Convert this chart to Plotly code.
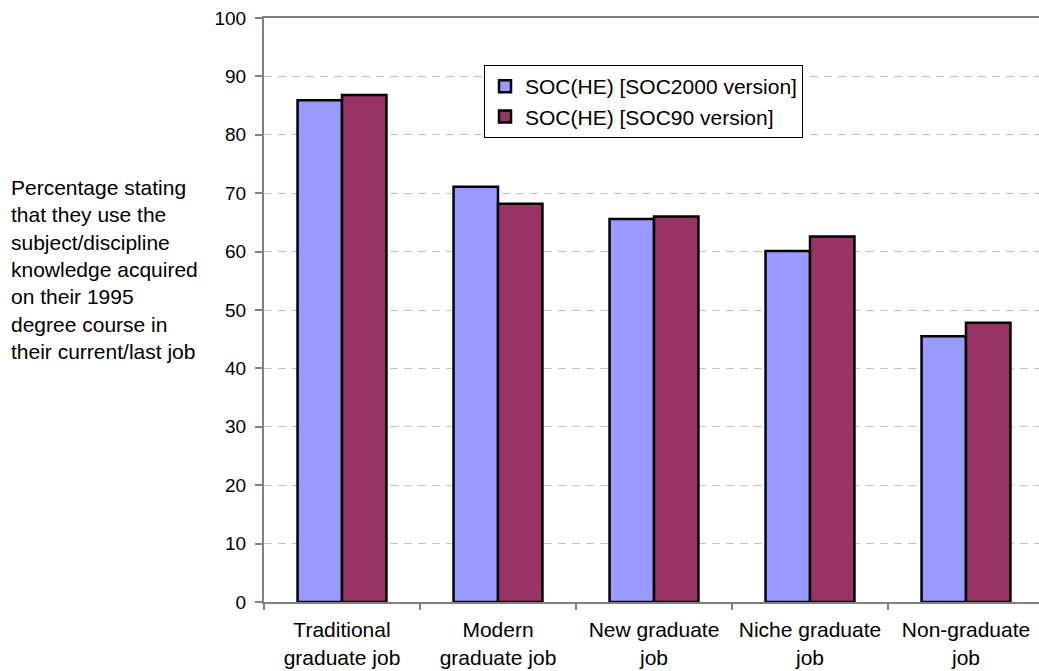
import plotly.graph_objects as go

# Job categories (x axis) and the two classification series
categories = [
    "Traditional<br>graduate job",
    "Modern<br>graduate job",
    "New graduate<br>job",
    "Niche graduate<br>job",
    "Non-graduate<br>job",
]
soc2000 = [85.9, 71.1, 65.6, 60.1, 45.5]
soc90 = [86.8, 68.2, 66.0, 62.6, 47.8]
series_names = ["SOC(HE) [SOC2000 version]", "SOC(HE) [SOC90 version]"]
y_title_lines = [
    "Percentage stating",
    "that they use the",
    "subject/discipline",
    "knowledge acquired",
    "on their 1995",
    "degree course in",
    "their current/last job",
]

FONT = "Liberation Sans, Arial, sans-serif"
FS = 21

W, H = 1039, 671
L, T, B = 264, 18, 69
plot_w = W - L
plot_h = H - T - B
cat_px = 156.0

fig = go.Figure()
fig.add_trace(go.Bar(
    x=categories, y=soc2000, name=series_names[0],
    marker=dict(color="#9999FF", line=dict(color="#000000", width=2.5)),
))
fig.add_trace(go.Bar(
    x=categories, y=soc90, name=series_names[1],
    marker=dict(color="#993366", line=dict(color="#000000", width=2.5)),
))

fig.update_layout(
    width=W, height=H,
    margin=dict(l=L, r=0, t=T, b=B, pad=0),
    paper_bgcolor="white", plot_bgcolor="white",
    font=dict(family=FONT, size=FS, color="#000000"),
    barmode="group", bargap=0.43, bargroupgap=0,
    showlegend=True,
    legend=dict(
        x=(484 - L) / plot_w, y=(H - B - 65) / plot_h,
        xanchor="left", yanchor="top",
        bgcolor="white", bordercolor="#000000", borderwidth=1,
        font=dict(family=FONT, size=FS, color="#000000"),
        itemwidth=30, tracegroupgap=0,
    ),
    xaxis=dict(
        type="category",
        range=[-0.5, -0.5 + plot_w / cat_px],
        tickson="boundaries", ticks="outside", ticklen=6, tickcolor="#808080",
        tickwidth=1.5,
        showline=True, linecolor="#808080", linewidth=2, mirror=True,
        showgrid=False, tickangle=0, ticklabelstandoff=8,
        tickfont=dict(family=FONT, size=FS),
    ),
    yaxis=dict(
        range=[0, 100], dtick=10, tick0=0,
        ticks="outside", ticklen=7, tickcolor="#808080", tickwidth=1.5,
        showline=True, linecolor="#808080", linewidth=2,
        showgrid=True, gridcolor="#c4c4c4", griddash="8px,6px", gridwidth=1,
        zeroline=False, ticklabelstandoff=5,
        tickfont=dict(family=FONT, size=19),
    ),
)

fig.add_annotation(
    text="<br>".join(y_title_lines),
    xref="paper", yref="paper",
    x=(9 - L) / plot_w, y=(H - B - 174) / plot_h,
    xanchor="left", yanchor="top", align="left",
    showarrow=False,
    font=dict(family=FONT, size=FS, color="#000000"),
)

fig.write_html("out.html")
